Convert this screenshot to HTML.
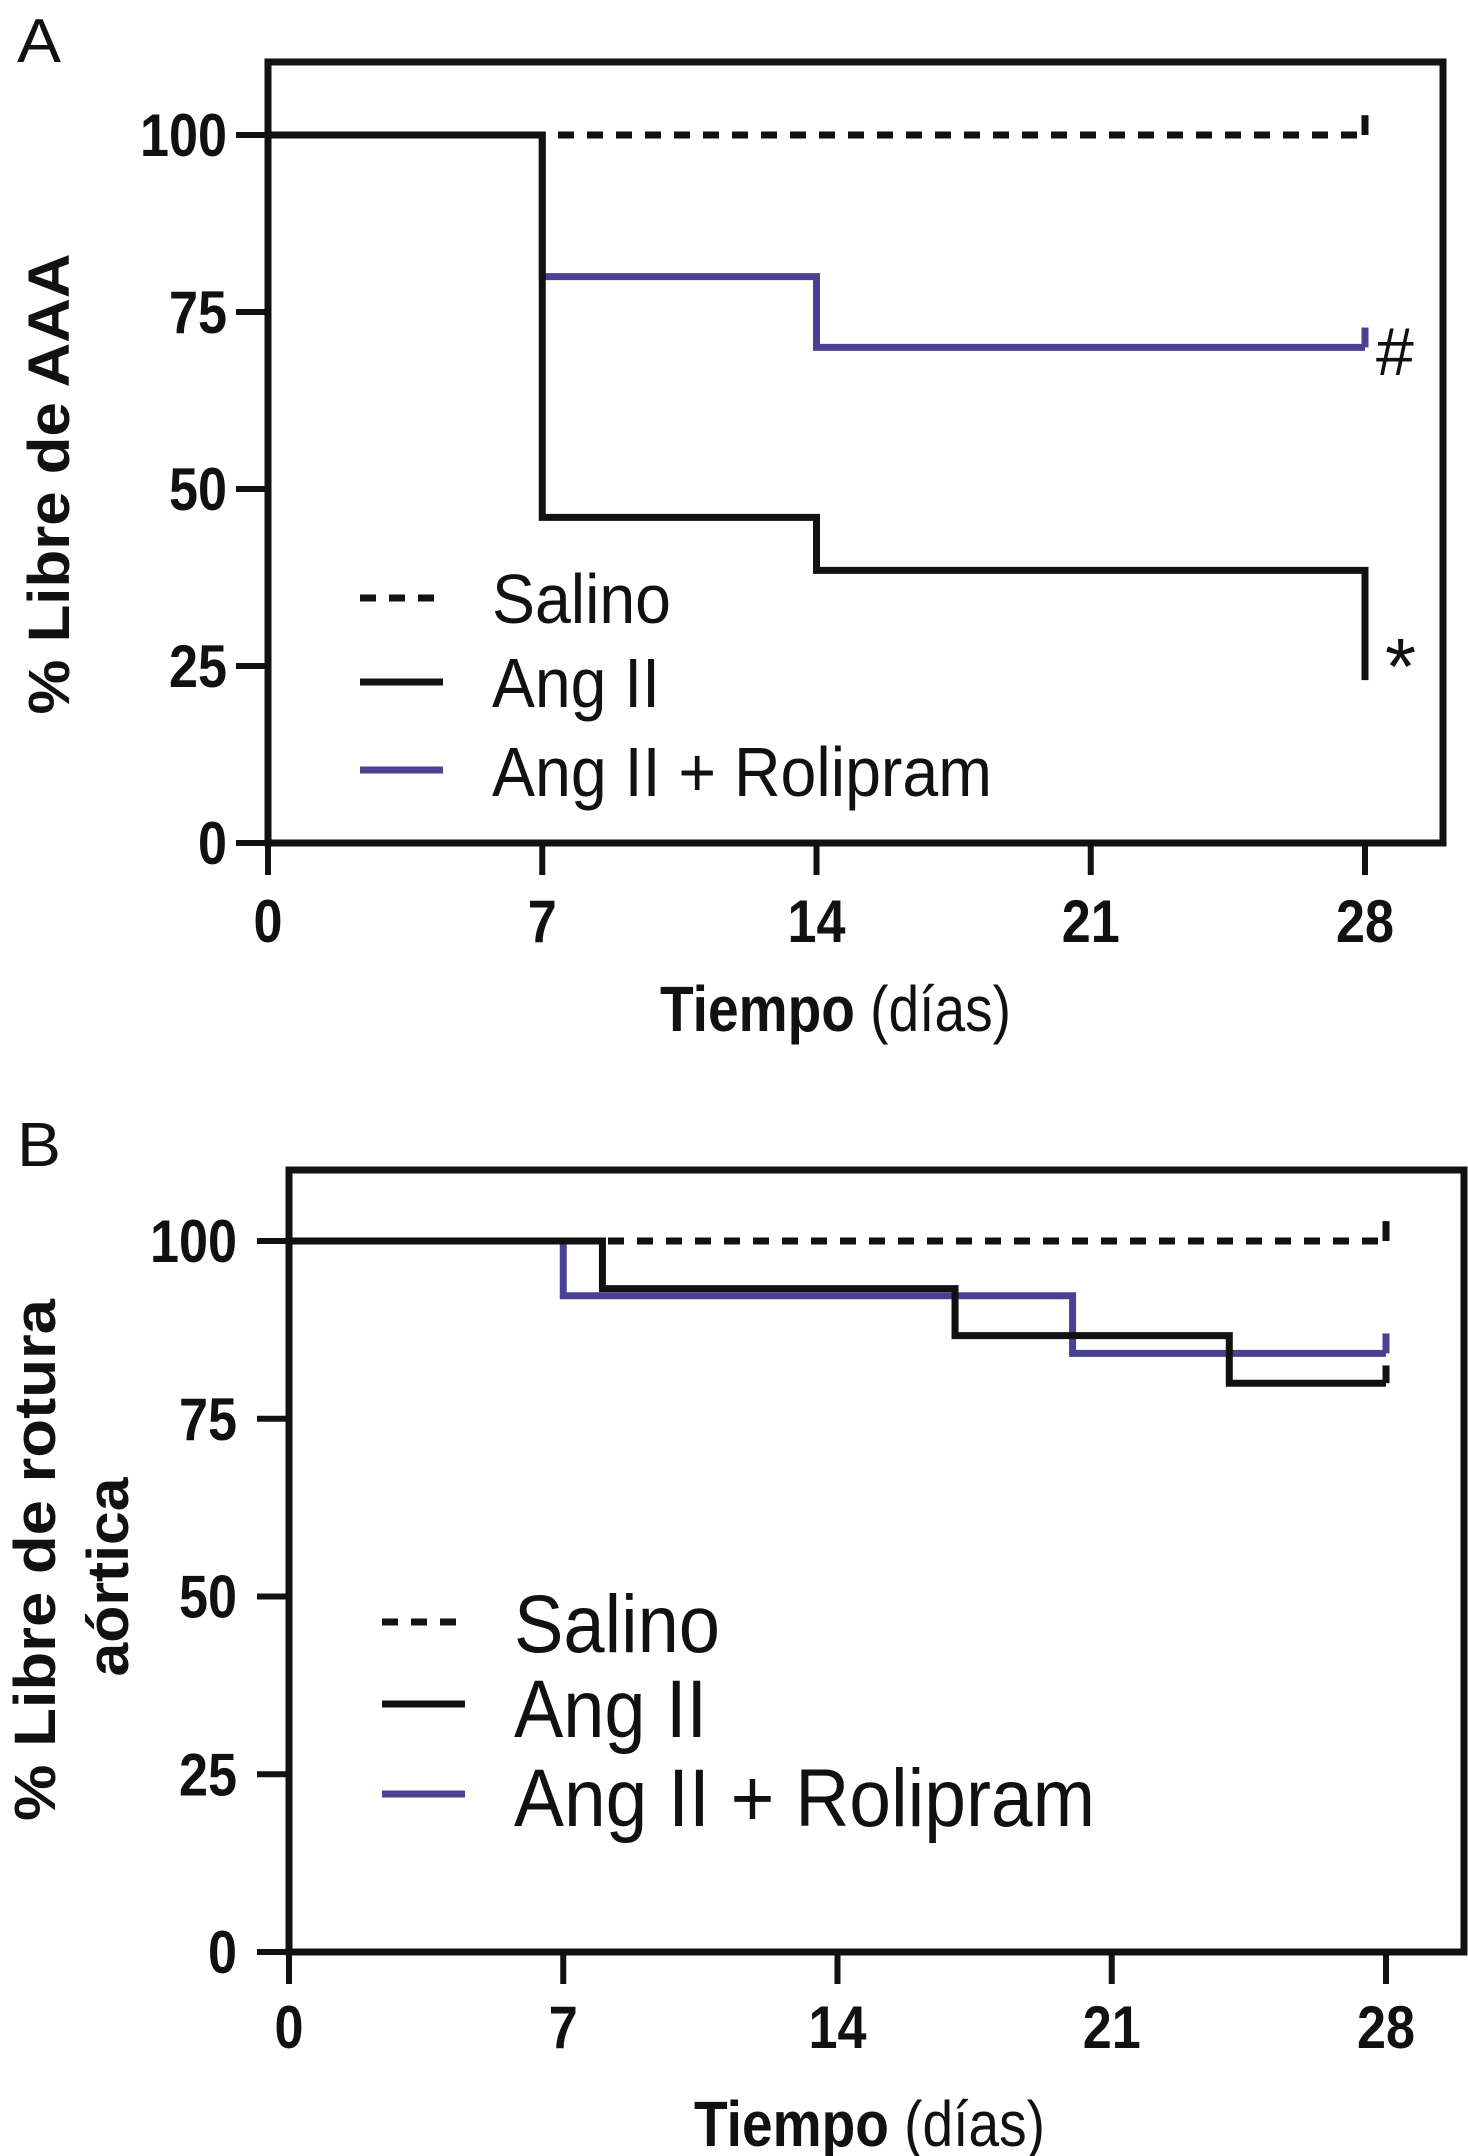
<!DOCTYPE html>
<html><head><meta charset="utf-8"><style>
html,body{margin:0;padding:0;background:#fff}
svg{display:block}
text{font-family:"Liberation Sans",sans-serif;fill:#111}
</style></head><body>
<svg id="fig" width="1468" height="2156" viewBox="0 0 1468 2156" xmlns="http://www.w3.org/2000/svg">
<text x="17" y="62" font-size="62" textLength="44" lengthAdjust="spacingAndGlyphs">A</text>
<text x="17" y="1166" font-size="62" textLength="44" lengthAdjust="spacingAndGlyphs">B</text>
<g id="pa"></g>
<g id="pb"></g>
</svg>
<script>
// ---- data ----
const xTicks = [0, 7, 14, 21, 28];
const yTicks = [0, 25, 50, 75, 100];
const seriesNames = ["Salino", "Ang II", "Ang II + Rolipram"];
// Panel A (step curves: event times and survival after each)
const aSalinoT = [0];       const aSalinoS = [100];
const aAngT = [0, 7, 14, 28];  const aAngS = [100, 46, 38.5, 23];
const aRolT = [0, 7, 14];      const aRolS = [100, 80, 70];
// Panel B
const bSalinoT = [0];       const bSalinoS = [100];
const bAngT = [0, 8, 17, 24];  const bAngS = [100, 93.3, 86.7, 80];
const bRolT = [0, 7, 20];      const bRolS = [100, 92.3, 84.2];
const endDay = 28;

const NS = "http://www.w3.org/2000/svg";
const PURPLE = "#4b4194";
const LW = 7;
function mk(parent, tag, attrs, txt){
  const e = document.createElementNS(NS, tag);
  for (const k in attrs) e.setAttribute(k, attrs[k]);
  if (txt !== undefined) e.textContent = txt;
  parent.appendChild(e); return e;
}

function drawPanel(g, cfg){
  const X = d => cfg.x0 + (cfg.x28 - cfg.x0) * d / 28;
  const Y = v => cfg.y0 + (cfg.y100 - cfg.y0) * v / 100;
  const fr = mk(g, "rect", {x: cfg.x0, y: cfg.top, width: cfg.right - cfg.x0, height: cfg.y0 - cfg.top, fill: "none", stroke: "#111", "stroke-width": 7});
  
  
  yTicks.forEach(v => {
    const t = mk(g, "line", {x1: cfg.x0 - 32, x2: cfg.x0, y1: Y(v), y2: Y(v), stroke: "#111", "stroke-width": 6});
    
    
    const s = String(v);
    const l = mk(g, "text", {x: cfg.ylabX, y: Y(v) + 21, "font-size": 60, "font-weight": "bold", "text-anchor": "end", textLength: s.length * 29, lengthAdjust: "spacingAndGlyphs"}, s);
    
    
  });
  xTicks.forEach(d => {
    const t = mk(g, "line", {x1: X(d), x2: X(d), y1: cfg.y0, y2: cfg.y0 + 32, stroke: "#111", "stroke-width": 6});
    
    
    const s = String(d);
    const l = mk(g, "text", {x: X(d), y: cfg.xlabY, "font-size": 60, "font-weight": "bold", "text-anchor": "middle", textLength: s.length * 29, lengthAdjust: "spacingAndGlyphs"}, s);
    
    
  });
  function step(T, S, color, dash, name, censorUp){
    let d = "M" + X(T[0]) + "," + Y(S[0]);
    for (let i = 1; i < T.length; i++) d += " H" + X(T[i]) + " V" + Y(S[i]);
    d += " H" + X(endDay);
    const p = mk(g, "path", {d: d, fill: "none", stroke: color, "stroke-width": LW, "stroke-dasharray": dash || "none"});
    
    
    const last = S[S.length - 1];
    const c = mk(g, "line", {x1: X(endDay), x2: X(endDay), y1: Y(last), y2: Y(last + censorUp), stroke: color, "stroke-width": LW});
    
    
  }
  step(cfg.rolT, cfg.rolS, PURPLE, null, "series-ang-ii-rolipram", 2.8);
  step(cfg.angT, cfg.angS, "#111", null, "series-ang-ii", cfg.angCensor);
  step(cfg.salT, cfg.salS, "#111", "16 13", "series-salino", 2.8);
  const styles = [["#111", "16 13"], ["#111", "none"], [PURPLE, "none"]];
  seriesNames.forEach((n, i) => {
    const ln = mk(g, "line", {x1: cfg.legX1, x2: cfg.legX2, y1: cfg.legY[i], y2: cfg.legY[i], stroke: styles[i][0], "stroke-width": LW, "stroke-dasharray": styles[i][1]});
    
    
    const tx = mk(g, "text", {x: cfg.legTX, y: cfg.legTY[i], "font-size": cfg.legFS, textLength: cfg.legW[i], lengthAdjust: "spacingAndGlyphs"}, n);
    
    
  });
  const xt = mk(g, "text", {x: cfg.xtX, y: cfg.xtY, "font-size": 64, textLength: 351, lengthAdjust: "spacingAndGlyphs"});
  
  
  mk(xt, "tspan", {"font-weight": "bold"}, "Tiempo");
  mk(xt, "tspan", {}, " (días)");
}

const pa = document.getElementById("pa");
drawPanel(pa, {x0: 268, x28: 1365, right: 1443, top: 62, y0: 843, y100: 135, ylabX: 227, xlabY: 942,
  salT: aSalinoT, salS: aSalinoS, angT: aAngT, angS: aAngS, rolT: aRolT, rolS: aRolS, angCensor: 0,
  legX1: 360, legX2: 443, legY: [598, 682, 770], legTX: 492, legTY: [623, 707, 796], legFS: 70, legW: [179, 168, 500],
  xtX: 660, xtY: 1031});
const pb = document.getElementById("pb");
drawPanel(pb, {x0: 289, x28: 1386, right: 1464, top: 1170, y0: 1952, y100: 1241, ylabX: 237, xlabY: 2048,
  salT: bSalinoT, salS: bSalinoS, angT: bAngT, angS: bAngS, rolT: bRolT, rolS: bRolS, angCensor: 2.5,
  legX1: 382, legX2: 465, legY: [1622, 1704, 1794], legTX: 514, legTY: [1652, 1737, 1826], legFS: 82, legW: [206, 193, 581],
  xtX: 694, xtY: 2146});

const svg = document.getElementById("fig");
const h = mk(svg, "text", {x: 1376, y: 375, "font-size": 68, "font-family": "Liberation Serif"}, "#");


const st = mk(svg, "text", {x: 1385, y: 694, "font-size": 80, "font-family": "Liberation Serif"}, "*");


const ya = mk(svg, "text", {x: 0, y: 0, "font-size": 58, "font-weight": "bold", "text-anchor": "middle", transform: "translate(69,484) rotate(-90)", textLength: 461, lengthAdjust: "spacingAndGlyphs"}, "% Libre de AAA");


const yb1 = mk(svg, "text", {x: 0, y: 0, "font-size": 58, "font-weight": "bold", "text-anchor": "middle", transform: "translate(55,1560) rotate(-90)", textLength: 522, lengthAdjust: "spacingAndGlyphs"}, "% Libre de rotura");


const yb2 = mk(svg, "text", {x: 0, y: 0, "font-size": 58, "font-weight": "bold", "text-anchor": "middle", transform: "translate(128,1577) rotate(-90)", textLength: 199, lengthAdjust: "spacingAndGlyphs"}, "aórtica");


</script>
</body></html>
